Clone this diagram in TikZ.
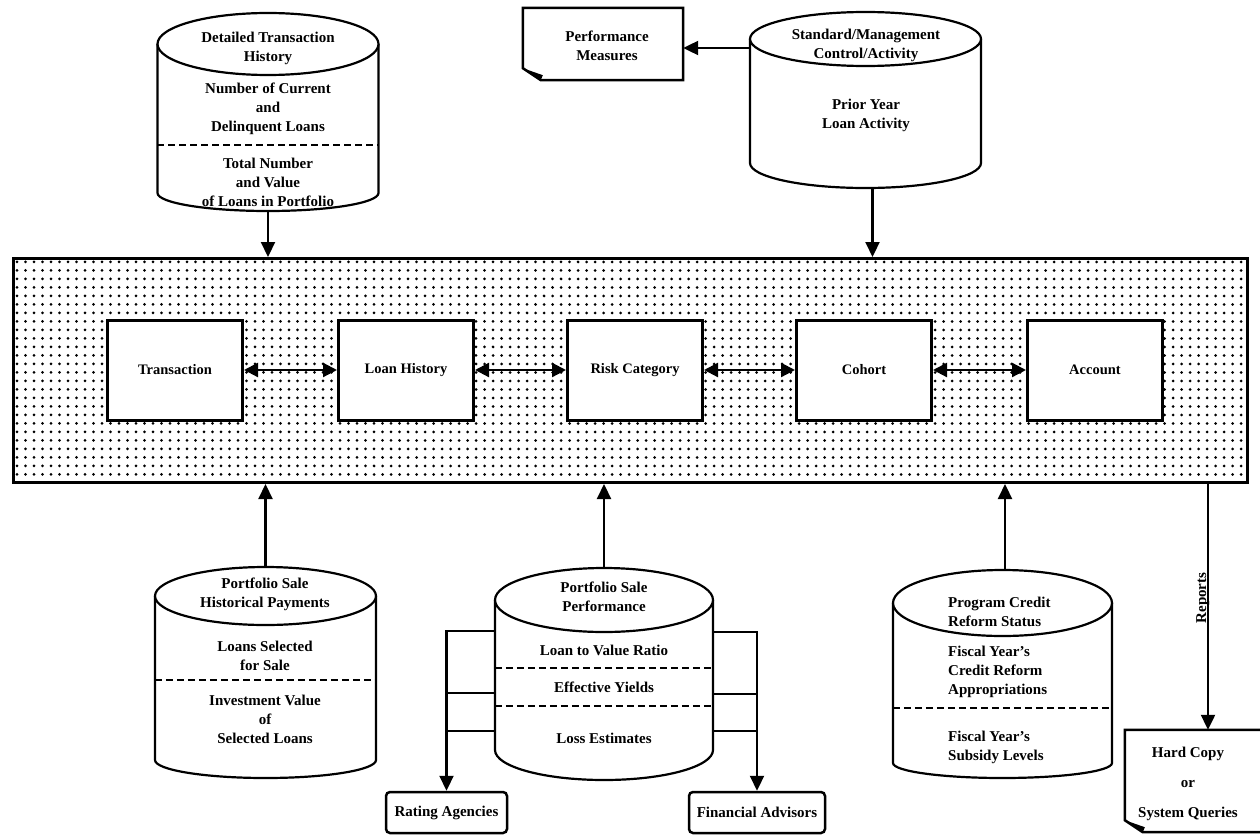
\documentclass[tikz,border=0pt]{standalone}
\usepackage{fontspec}
\setmainfont{Liberation Serif}
\usetikzlibrary{arrows.meta,patterns.meta}

\newcommand\mkcyl[7]{% name, cx, topY, rx, ry, sideBottomY, rb
  \node[inner sep=0pt, minimum width={2*#4}, minimum height={#6+#7-#3}, anchor=north] (#1) at (#2,#3) {};
  \draw[cylline, fill=white] ({#2-#4},{#3+#5}) -- ({#2-#4},#6)
     .. controls ({#2-#4},{#6+0.5523*#7}) and ({#2-0.5523*#4},{#6+#7}) .. (#2,{#6+#7})
     .. controls ({#2+0.5523*#4},{#6+#7}) and ({#2+#4},{#6+0.5523*#7}) .. ({#2+#4},#6)
     -- ({#2+#4},{#3+#5});
  \draw[cylline, fill=white] (#2,{#3+#5}) ellipse[x radius=#4, y radius=#5];
}
\newcommand\docoutline[1]{%
  \draw[docline, fill=white] (#1.north west) -- (#1.north east) -- (#1.south east)
     -- ([xshift=18pt]#1.south west) -- ([yshift=12pt]#1.south west) -- cycle;
  \fill ([yshift=12pt]#1.south west) -- ([xshift=20pt,yshift=5pt]#1.south west)
     -- ([xshift=18pt]#1.south west) -- cycle;
}

\begin{document}
\begin{tikzpicture}[x=1pt,y=-1pt,
  txt/.style={font=\bfseries\fontsize{15}{19}\selectfont, align=center, inner sep=0pt},
  cylline/.style={line width=2.2pt},
  docline/.style={line width=2.5pt},
  dashline/.style={line width=2pt, dash pattern=on 7pt off 4pt},
  ebox/.style={draw, fill=white, line width=3pt, minimum width=135pt, minimum height=100pt,
     font=\bfseries\fontsize{14.5}{19}\selectfont},
  arr/.style={line width=2.2pt, -{Triangle[length=15pt,width=14pt]}},
  darr/.style={line width=2.2pt, {Triangle[length=14pt,width=14pt]}-{Triangle[length=14pt,width=14pt]}},
  plain/.style={line width=2.2pt},
  rbox/.style={draw, line width=2.5pt, rounded corners=4pt, fill=white, minimum height=41pt,
     font=\bfseries\fontsize{15}{19}\selectfont, inner sep=0pt}
]
\useasboundingbox (0,0) rectangle (1260,840);

% main dotted area
\node[draw, line width=3pt, pattern={Dots[distance=8.5pt,radius=1.5pt]}, minimum width=1234pt,
      minimum height=224pt, anchor=north west, inner sep=0pt] (main) at (12,257) {};

% entity boxes
\node[ebox] (trans)  at (175,370) {Transaction};
\node[ebox] (loanh)  at (406,370) {Loan History};
\node[ebox] (risk)   at (635,370) {Risk Category};
\node[ebox] (cohort) at (864,370) {Cohort};
\node[ebox] (acct)   at (1095,370) {Account};
\draw[darr] (trans) -- (loanh);
\draw[darr] (loanh) -- (risk);
\draw[darr] (risk) -- (cohort);
\draw[darr] (cohort) -- (acct);

% top-left cylinder
\mkcyl{c1}{268}{13}{110.5}{31}{193}{18}
\draw[dashline] (c1.west |- 0,145) -- (c1.east |- 0,145);
\node[txt] (c1a) at (268,48) {Detailed Transaction\\History};
\node[txt] (c1b) at (268,109) {Number of Current\\and\\Delinquent Loans};
\node[txt] (c1c) at (268,182) {Total Number\\and Value\\of Loans in Portfolio};
\draw[arr] (c1.south) -- (c1.south |- main.north);

% top-right cylinder
\mkcyl{c2}{865.5}{12}{115.5}{27}{163}{25}
\node[txt] (c2a) at (866,45) {Standard/Management\\Control/Activity};
\node[txt] (c2b) at (866,115) {Prior Year\\Loan Activity};
\draw[arr] ([xshift=7pt]c2.south) -- ([xshift=7pt]c2.south |- main.north);

% performance measures document
\node[inner sep=0pt, minimum width=160pt, minimum height=72pt] (d1) at (603,44) {};
\docoutline{d1}
\node[txt] (d1t) at (607,46) {Performance\\Measures};
\draw[arr] (c2.west |- 0,48) -- (d1.east |- 0,48);

% bottom-left cylinder
\mkcyl{c3}{265.5}{567}{110.5}{29}{760}{18}
\draw[dashline] (c3.west |- 0,680) -- (c3.east |- 0,680);
\node[txt] (c3a) at (265,594) {Portfolio Sale\\Historical Payments};
\node[txt] (c3b) at (265,656) {Loans Selected\\for Sale};
\node[txt] (c3c) at (265,719) {Investment Value\\of\\Selected Loans};
\draw[arr] (c3.north) -- (c3.north |- main.south);

% bottom-middle cylinder
\mkcyl{c4}{604}{568}{109}{32}{750}{30}
\draw[dashline] (c4.west |- 0,668) -- (c4.east |- 0,668);
\draw[dashline] (c4.west |- 0,706) -- (c4.east |- 0,706);
\node[txt] (c4a) at (604,597) {Portfolio Sale\\Performance};
\node[txt] (c4b) at (604,650) {Loan to Value Ratio};
\node[txt] (c4c) at (604,687) {Effective Yields};
\node[txt] (c4d) at (604,738) {Loss Estimates};
\draw[arr] (c4.north) -- (c4.north |- main.south);

% rating agencies / financial advisors
\node[rbox, minimum width=121pt] (ra) at (446.5,812.5) {Rating Agencies};
\node[rbox, minimum width=136pt] (fa) at (757,812.5) {Financial Advisors};
\draw[arr] (c4.west |- 0,631) -| (ra.north);
\draw[plain] (c4.west |- 0,693) -- (ra.north |- 0,693);
\draw[plain] (c4.west |- 0,731) -- (ra.north |- 0,731);
\draw[arr] (c4.east |- 0,632) -| (fa.north);
\draw[plain] (c4.east |- 0,694) -- (fa.north |- 0,694);
\draw[plain] (c4.east |- 0,731) -- (fa.north |- 0,731);

% bottom-right cylinder
\mkcyl{c5}{1002.5}{570}{109.5}{33}{763}{15}
\draw[dashline] (c5.west |- 0,708) -- (c5.east |- 0,708);
\node[txt, align=left, anchor=west] (c5a) at (948,612) {Program Credit\\Reform Status};
\node[txt, align=left, anchor=west] (c5b) at (948,672) {Fiscal Year's\\Credit Reform\\Appropriations};
\node[txt, align=left, anchor=west] (c5c) at (948,747) {Fiscal Year's\\Subsidy Levels};
\draw[arr] ([xshift=2.5pt]c5.north) -- ([xshift=2.5pt]c5.north |- main.south);

% hard copy document
\node[inner sep=0pt, minimum width=137pt, minimum height=102pt] (d2) at (1193.5,781) {};
\docoutline{d2}
\node[txt, font=\bfseries\fontsize{15}{30}\selectfont] (d2t) at (1188,784) {Hard Copy\\or\\System Queries};
\draw[arr] ([xshift=14.5pt]d2.north |- main.south) -- ([xshift=14.5pt]d2.north);
\node[txt, rotate=90, anchor=base] (rep) at (1206,598) {Reports};
\end{tikzpicture}
\end{document}
